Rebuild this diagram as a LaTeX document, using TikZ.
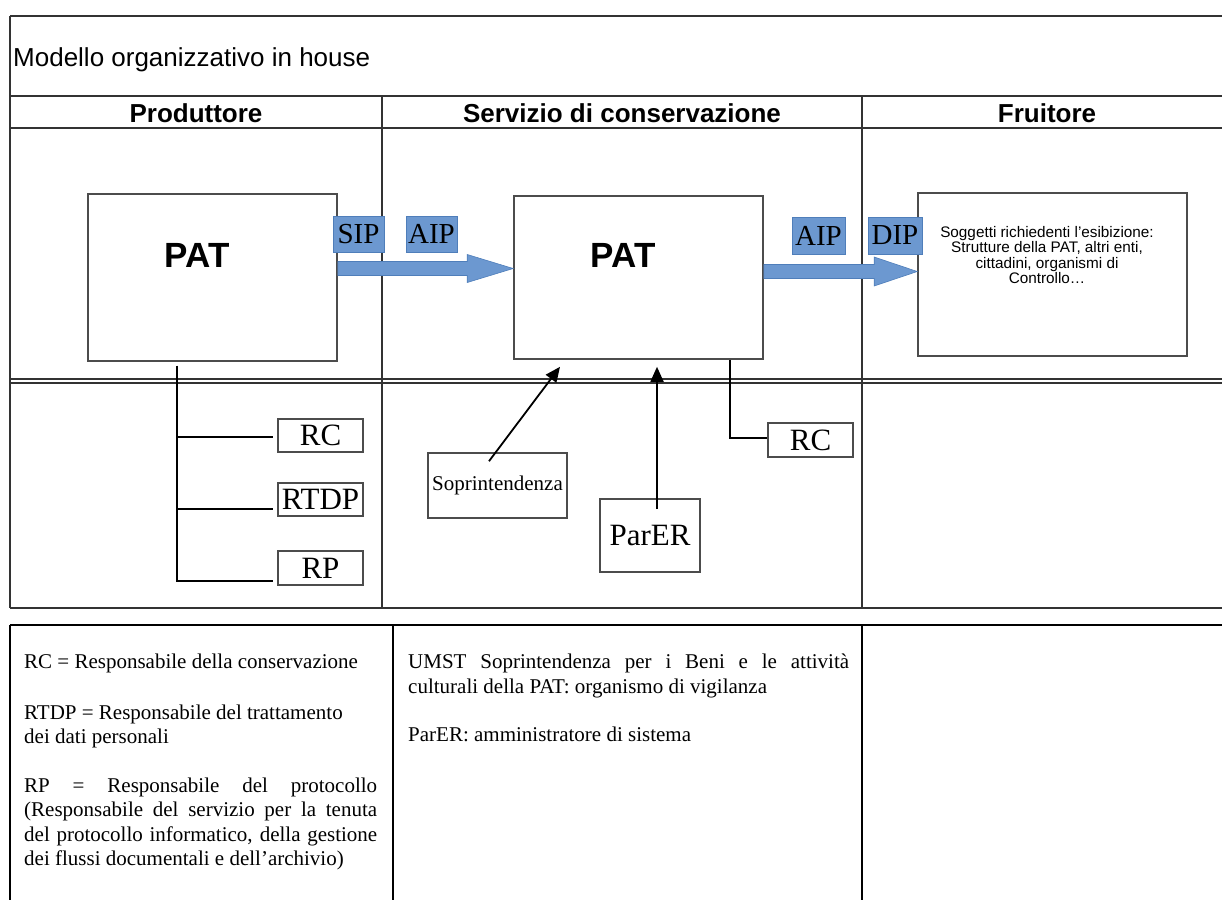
\documentclass[tikz,border=0pt]{standalone}
\usepackage{fontspec}
\setmainfont{Liberation Serif}
\newfontfamily\arialf{Liberation Sans}
\usetikzlibrary{arrows.meta,calc}
\definecolor{bluefill}{RGB}{108,152,208}
\definecolor{blueedge}{RGB}{79,126,186}
\begin{document}
\begin{tikzpicture}[x=1pt,y=-1pt,
  tbl/.style={line width=1.5pt,draw=black!80},
  box/.style={draw=black!70,line width=1.6pt,rectangle,inner sep=0pt},
  lbl/.style={rectangle,inner sep=0pt,fill=bluefill,draw=blueedge,line width=0.8pt,font=\fontsize{29}{29}\selectfont},
  conn/.style={line width=1.6pt,draw=black},
  arr/.style={line width=1.8pt,draw=black,-{Triangle[length=15pt,width=13pt]}},
  barrow/.style={fill=bluefill,draw=blueedge,line width=0.6pt},
  pat/.style={font=\arialf\bfseries\fontsize{35}{35}\selectfont,inner sep=0pt,anchor=base},
  hdr/.style={font=\arialf\bfseries\fontsize{26}{26}\selectfont,inner sep=0pt,anchor=base},
  big/.style={font=\fontsize{31}{31}\selectfont},
  note/.style={inner sep=0pt,anchor=north west,align=justify,font=\fontsize{21}{24.5}\selectfont}
]
\useasboundingbox (0,0) rectangle (1222,900);

% upper table
\draw[tbl] (10,16) -- (1222,16);
\draw[tbl] (10,16) -- (10,608);
\draw[tbl,line width=2pt] (10,96) -- (1222,96);
\draw[tbl,line width=2pt] (10,128) -- (1222,128);
\draw[tbl,line width=1.2pt] (10,379) -- (1222,379);
\draw[tbl,line width=1.2pt] (10,383) -- (1222,383);
\draw[tbl,line width=2pt] (10,608) -- (1222,608);
\draw[tbl] (382,96) -- (382,608);
\draw[tbl] (862,96) -- (862,608);

% lower table
\draw[line width=1.8pt] (10,625) -- (1222,625);
\draw[line width=1.8pt] (10,625) -- (10,900);
\draw[line width=1.8pt] (393,625) -- (393,900);
\draw[line width=1.8pt] (862,625) -- (862,900);

% titles
\node[font=\arialf\fontsize{26}{26}\selectfont,anchor=base west,inner sep=0pt] (title) at (13,66) {Modello organizzativo in house};
\node[hdr] (h1) at (196,122) {Produttore};
\node[hdr] (h2) at (622,122) {Servizio di conservazione};
\node[hdr] (h3) at (1047,122) {Fruitore};

% main boxes
\node[box,minimum width=249pt,minimum height=167pt] (patL) at (212.5,277.5) {};
\node[pat] (patLt) at (197,267) {PAT};
\node[box,minimum width=249pt,minimum height=163pt] (patM) at (638.5,277.5) {};
\node[pat] (patMt) at (623,267) {PAT};
\node[box,minimum width=269pt,minimum height=163pt] (fru) at (1052.5,274.5) {};
\node[font=\arialf\fontsize{15.3}{15.5}\selectfont,align=center,inner sep=0pt] (frut) at (1047,255)
  {Soggetti richiedenti l’esibizione:\\ Strutture della PAT, altri enti,\\ cittadini, organismi di\\ Controllo…};

% block arrows
\coordinate (a1s) at ($(patL.east)+(0,-9)$);
\coordinate (a1e) at ($(patM.west)+(0,-9)$);
\draw[barrow] ($(a1s)+(0,-7)$) -- ($(a1e)+(-46,-7)$) -- ($(a1e)+(-46,-14)$) -- (a1e)
  -- ($(a1e)+(-46,14)$) -- ($(a1e)+(-46,7)$) -- ($(a1s)+(0,7)$) -- cycle;
\coordinate (a2s) at ($(patM.east)+(0,-6)$);
\coordinate (a2e) at ($(fru.west)+(0,-3)$);
\draw[barrow] ($(a2s)+(0,-7)$) -- ($(a2e)+(-43,-7)$) -- ($(a2e)+(-43,-14.5)$) -- (a2e)
  -- ($(a2e)+(-43,14.5)$) -- ($(a2e)+(-43,7)$) -- ($(a2s)+(0,7)$) -- cycle;

% blue labels
\node[lbl,minimum width=51pt,minimum height=36pt] (sip) at (358.5,234) {SIP};
\node[lbl,minimum width=51pt,minimum height=36pt] (aip1) at (431.5,234) {AIP};
\node[lbl,minimum width=53pt,minimum height=37pt] (aip2) at (818.5,235.5) {AIP};
\node[lbl,minimum width=54pt,minimum height=37pt] (dip) at (895,235.5) {DIP};

% lower boxes
\node[box,big,minimum width=85pt,minimum height=33pt] (rc1) at (320.5,435.5) {RC};
\node[box,big,minimum width=85pt,minimum height=33pt] (rtdp) at (320.5,499.5) {RTDP};
\node[box,big,minimum width=85pt,minimum height=34pt] (rp) at (320.5,568) {RP};
\node[box,font=\fontsize{21}{21}\selectfont,minimum width=139pt,minimum height=65pt] (sopr) at (497.5,485.5) {Soprintendenza};
\node[box,big,minimum width=100pt,minimum height=73pt] (parer) at (650,535.5) {ParER};
\node[box,big,minimum width=85pt,minimum height=34pt] (rc2) at (810.5,440) {RC};

% connectors
\coordinate (t0) at ($(patL.south)+(-35.5,4)$);
\draw[conn] (t0) |- ($(rc1.west)+(-4,1.5)$);
\draw[conn] (t0) |- ($(rtdp.west)+(-4,9.5)$);
\draw[conn] (t0) |- ($(rp.west)+(-4,13)$);
\draw[conn] ($(patM.south)+(91.5,0)$) |- ($(rc2.west)+(0,-2)$);
\draw[arr] ($(sopr.north)+(-8.5,9)$) -- ($(patM.south)+(-78.5,7)$);
\draw[arr] ($(parer.north)+(7,11)$) -- ($(patM.south)+(18.5,7)$);

% legends
\node[note,text width=353pt] (leg1) at (24,654)
  {RC = Responsabile della conservazione\par\vspace{26pt}
   RTDP = Responsabile del trattamento\\ dei dati personali\par\vspace{24pt}
   RP = Responsabile del protocollo\linebreak (Responsabile del servizio per la tenuta\linebreak del protocollo informatico, della gestione\linebreak dei flussi documentali e dell’archivio)};
\node[note,text width=441pt] (leg2) at (408,654)
  {UMST Soprintendenza per i Beni e le attività\linebreak culturali della PAT: organismo di vigilanza\par\vspace{24pt}
   ParER: amministratore di sistema};
\end{tikzpicture}
\end{document}
